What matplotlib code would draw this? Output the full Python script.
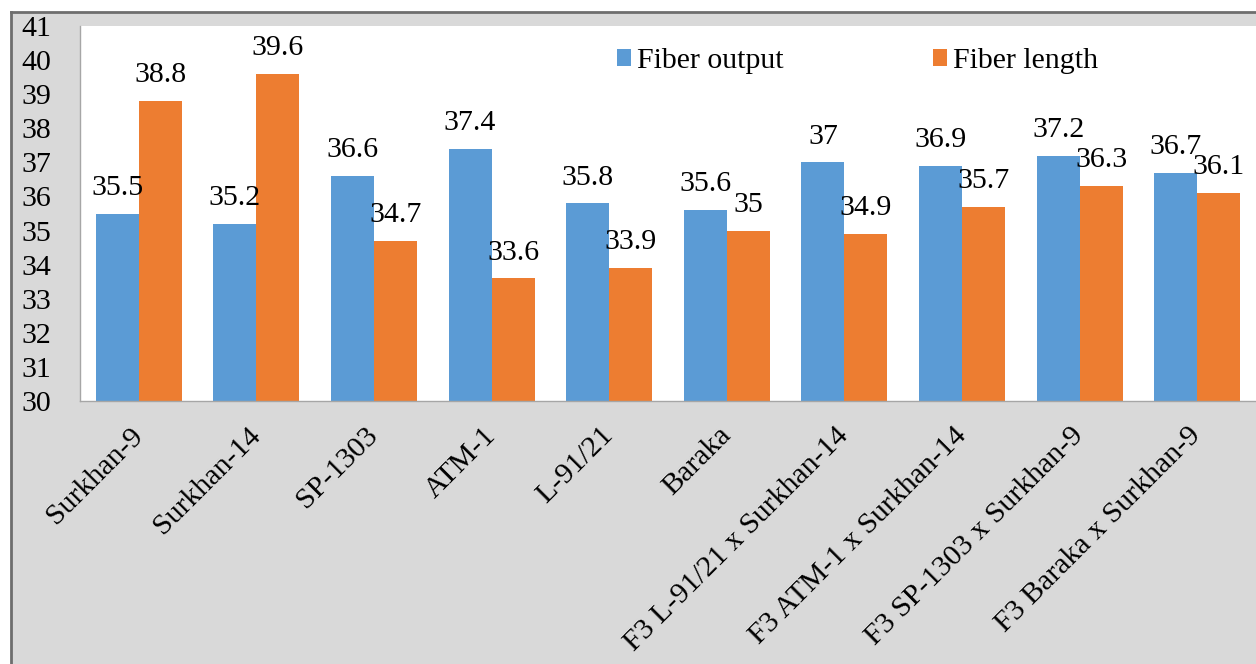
import numpy as np
import matplotlib
matplotlib.use('Agg')
import matplotlib.pyplot as plt
from matplotlib.patches import Rectangle

varieties = ['Surkhan-9', 'Surkhan-14', 'SP-1303', 'ATM-1', 'L-91/21', 'Baraka',
             'F3 L-91/21 x Surkhan-14', 'F3 ATM-1 x Surkhan-14',
             'F3 SP-1303 x Surkhan-9', 'F3 Baraka x Surkhan-9']
fiber_output = [35.5, 35.2, 36.6, 37.4, 35.8, 35.6, 37.0, 36.9, 37.2, 36.7]
fiber_length = [38.8, 39.6, 34.7, 33.6, 33.9, 35.0, 34.9, 35.7, 36.3, 36.1]

BLUE, ORANGE = '#5b9bd5', '#ed7d31'
BG = '#d9d9d9'
FS = 21.5

plt.rcParams['font.family'] = ['Liberation Serif', 'DejaVu Serif']

W, H = 1256, 664
fig = plt.figure(figsize=(W / 100, H / 100), dpi=100)
fig.patch.set_facecolor('white')

# grey chart-area panel with its dark border on top and left
fig.add_artist(Rectangle((11 / W, 0), 1 - 11 / W, 1 - 12 / H, transform=fig.transFigure,
                         facecolor=BG, edgecolor='none', zorder=0))
fig.add_artist(plt.Line2D([11 / W, 1], [1 - 12 / H, 1 - 12 / H], transform=fig.transFigure,
                          color='#6e6e6e', lw=2, zorder=1))
fig.add_artist(plt.Line2D([11 / W, 11 / W], [0, 1 - 12 / H], transform=fig.transFigure,
                          color='#6e6e6e', lw=2, zorder=1))

ax = fig.add_axes([80 / W, 1 - 401 / H, 1 - 80 / W, (401 - 26) / H])
ax.set_facecolor('white')

x = np.arange(len(varieties))
w = 0.366
ax.bar(x - w / 2, np.array(fiber_output) - 30, w, bottom=30, color=BLUE,
       label='Fiber output', zorder=2)
ax.bar(x + w / 2, np.array(fiber_length) - 30, w, bottom=30, color=ORANGE,
       label='Fiber length', zorder=2)

for xs, vals in [(x - w / 2, fiber_output), (x + w / 2, fiber_length)]:
    for xi, v in zip(xs, vals):
        ax.annotate(f'{v:g}', xy=(xi, v), xytext=(0, 13.5), textcoords='offset points',
                    ha='center', va='baseline', fontsize=FS, color='black')

ax.set_xlim(-0.5, len(varieties) - 0.5)
ax.set_ylim(30, 41)
ax.set_yticks(range(30, 42))
ax.tick_params(axis='y', length=0, pad=21, labelsize=FS)
ax.set_xticks(x)
ax.set_xticklabels(varieties, rotation=45, ha='right', va='center',
                   rotation_mode='anchor', fontsize=FS)
ax.tick_params(axis='x', length=0, pad=22)

for s in ['top', 'right']:
    ax.spines[s].set_visible(False)
for s in ['left', 'bottom']:
    ax.spines[s].set_color('#a6a6a6')
    ax.spines[s].set_linewidth(1)

ax.legend(ncol=2, frameon=False, fontsize=FS, loc='center left',
          bbox_to_anchor=(602 / W, 1 - 61 / H), bbox_transform=fig.transFigure,
          borderpad=0, handlelength=0.47, handleheight=0.47,
          handletextpad=0.2, columnspacing=5.0)

fig.savefig('out.png', dpi=100)
